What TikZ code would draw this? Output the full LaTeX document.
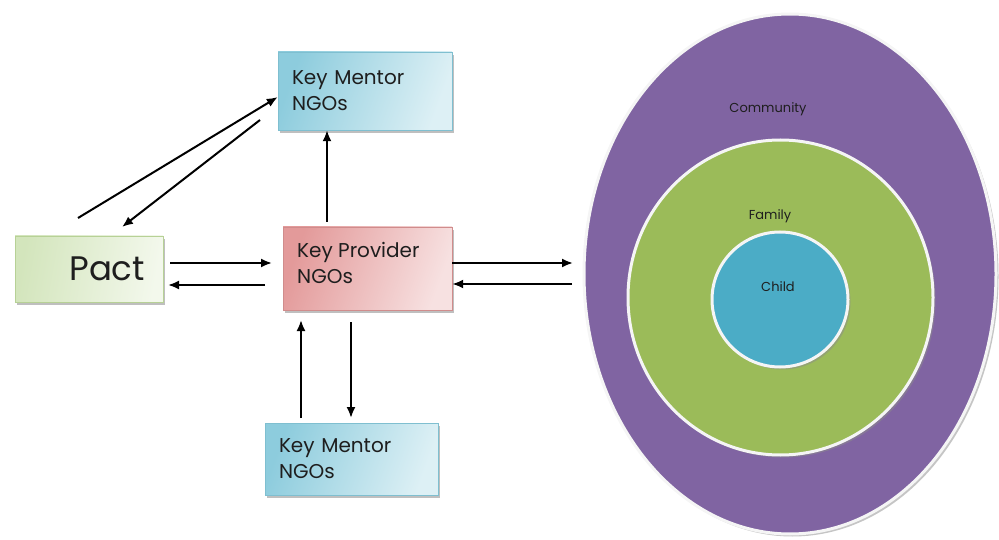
\documentclass[tikz,border=0pt]{standalone}
\usepackage{fontspec}
\setmainfont{Poppins}
\usetikzlibrary{shapes.geometric,shadows,arrows.meta}
\definecolor{purp}{HTML}{8064A2}
\definecolor{grn}{HTML}{9BBB59}
\definecolor{blu}{HTML}{4BACC6}
\definecolor{txt}{HTML}{1E1E1E}
\definecolor{mentA}{HTML}{8DCCDD}
\definecolor{mentB}{HTML}{DDF0F5}
\definecolor{mentD}{HTML}{7FBFD0}
\definecolor{provA}{HTML}{E39A9A}
\definecolor{provB}{HTML}{F7E1E1}
\definecolor{provD}{HTML}{D08C8C}
\definecolor{pactA}{HTML}{D3E5BC}
\definecolor{pactB}{HTML}{F3F8EC}
\definecolor{pactD}{HTML}{B7D196}
\tikzset{
  boxtext/.style={align=left, font=\fontsize{20}{26}\selectfont, text=txt, inner sep=0pt},
  box/.style={rectangle, inner xsep=14pt, inner ysep=4pt, align=left, font=\fontsize{20}{26}\selectfont, text=txt,
    drop shadow={shadow xshift=1.5pt, shadow yshift=-3pt, fill=black!50}},
  mentorbox/.style={box, draw=mentD, left color=mentA, right color=mentB, shading angle=70,
    minimum width=174pt, minimum height=78pt, text width=146pt},
  providerbox/.style={box, draw=provD, left color=provA, right color=provB, shading angle=70,
    minimum width=169pt, minimum height=83pt},
  pactbox/.style={box, draw=pactD, left color=pactA, right color=pactB, shading angle=80,
    minimum width=148pt, minimum height=66pt, text width=112pt, align=right, font=\fontsize{34}{34}\selectfont, inner xsep=18pt},
  ring/.style={ellipse, draw=white!96!black, line width=3pt, inner sep=0pt,
    drop shadow={shadow xshift=2.5pt, shadow yshift=-2.5pt, fill=black!45}},
  lbl/.style={font=\fontsize{13}{13}\selectfont, text=txt},
  arr/.style={line width=2pt, -{Latex[length=11pt,width=9pt]}}
}
\begin{document}
\begin{tikzpicture}[x=1pt,y=-1pt]
\useasboundingbox (0,0) rectangle (999,540);
% boxes
\node[mentorbox] (mtop) at (365,91) {Key Mentor\\NGOs};
\node[pactbox] (pact) at (89,269) {Pact};
\node[providerbox] (prov) at (367.5,268.5) {};
\node[boxtext, anchor=west] (provtxt) at (297,263) {Key Provider\\NGOs};
\node[mentorbox, minimum width=173pt, minimum height=72pt, text width=145pt] (mbot) at (351.5,459) {Key Mentor\\NGOs};
% rings
\node[ring, fill=purp, minimum width=412pt, minimum height=520pt] (community) at (790,274) {};
\node[ring, fill=grn, minimum width=305pt, minimum height=315pt] (family) at (780.5,297.5) {};
\node[ring, fill=blu, minimum width=136pt, minimum height=135pt] (child) at (780,299.5) {};
\node[lbl] (tcom) at (768,109) {Community};
\node[lbl] (tfam) at (770,216) {Family};
\node[lbl] (tchild) at (778,287) {Child};
% free ends
\coordinate (p1) at (78,218);
\coordinate (m1) at (260,120);
\coordinate (p2) at (122,227);
\coordinate (a1) at (170,263);
\coordinate (a2) at (272,263);
\coordinate (b1) at (265,285);
\coordinate (b2) at (168,285);
\coordinate (c1) at (573,263);
\coordinate (d1) at (572,284);
\coordinate (u1) at (327,222);
\coordinate (e1) at (301,418);
\coordinate (e2) at (301,320);
\coordinate (f1) at (351,322);
\coordinate (f2) at (351,418);
% connectors
\draw[arr] (p1) -- (mtop.west |- 0,97);
\draw[arr] (m1) -- (p2);
\draw[arr] (u1) -- (mtop.south -| u1);
\draw[arr] (a1) -- (a2);
\draw[arr] (b1) -- (b2);
\draw[arr] (prov.east |- c1) -- (c1);
\draw[arr] (d1) -- (prov.east |- d1);
\draw[arr] (e1) -- (e2);
\draw[arr] (f1) -- (f2);
\end{tikzpicture}
\end{document}
